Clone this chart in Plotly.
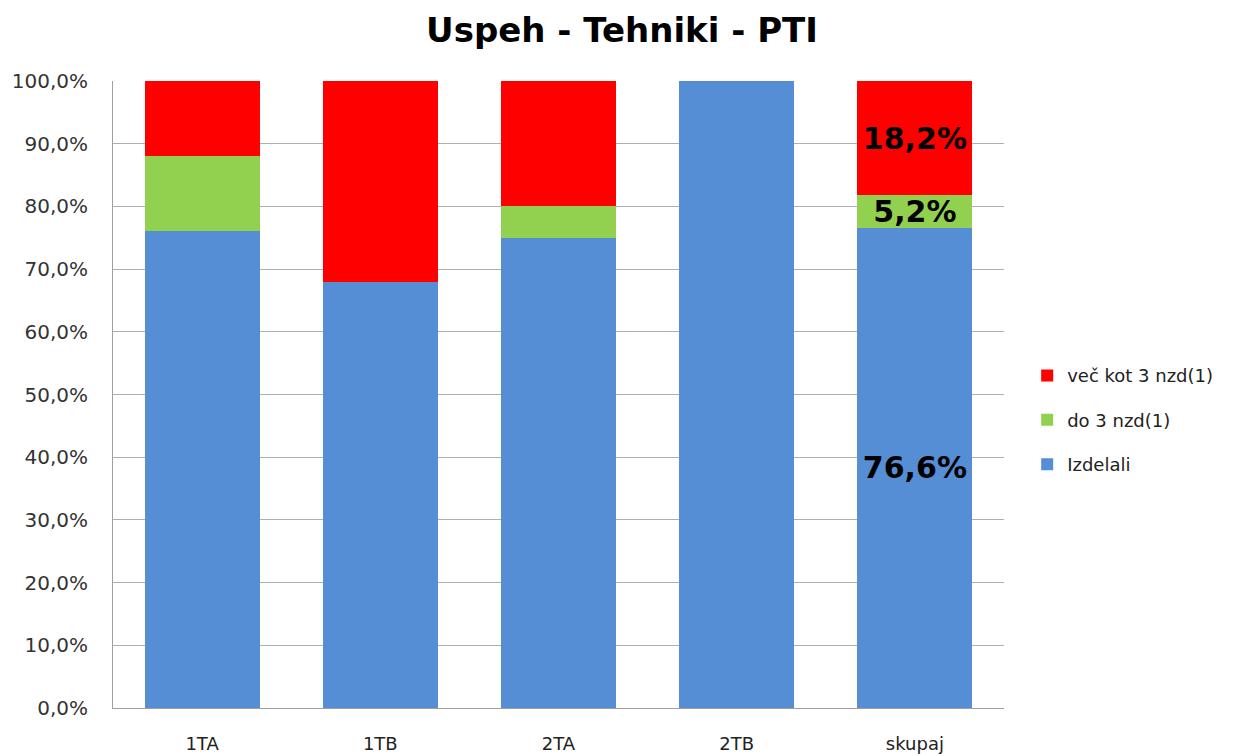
import plotly.graph_objects as go

categories = ["1TA", "1TB", "2TA", "2TB", "skupaj"]
izdelali = [76.0, 68.0, 75.0, 100.0, 76.6]
do3 = [12.0, 0.0, 5.0, 0.0, 5.2]
vec3 = [12.0, 32.0, 20.0, 0.0, 18.2]
labeled = [False, False, False, False, True]
y_ticks = [0, 10, 20, 30, 40, 50, 60, 70, 80, 90, 100]

def fmt(v):
    return ("%.1f%%" % v).replace(".", ",")

def labels(vals):
    return [fmt(v) if show else "" for v, show in zip(vals, labeled)]

series = [
    ("Izdelali", izdelali, "#558ED5", 3),
    ("do 3 nzd(1)", do3, "#92D050", 2),
    ("več kot 3 nzd(1)", vec3, "#FF0000", 1),
]

fig = go.Figure()
for name, vals, col, rank in series:
    fig.add_trace(go.Bar(
        x=categories, y=vals, name=name, legendgroup=name, legendrank=rank,
        marker=dict(color=col, line=dict(width=0)),
        text=labels(vals), textposition="inside", insidetextanchor="middle",
        constraintext="none",
        textfont=dict(family="DejaVu Sans", size=30, color="black", weight="bold"),
        hoverinfo="skip",
    ))

fig.update_layout(
    barmode="stack", bargap=0.355,
    width=1228, height=748,
    margin=dict(l=105, r=232, t=73, b=48),
    paper_bgcolor="white", plot_bgcolor="white",
    title=dict(text="<b>Uspeh - Tehniki - PTI</b>", x=0.5, xanchor="center",
               y=0.97, yref="container", yanchor="middle",
               font=dict(family="DejaVu Sans", size=34, color="black")),
    legend=dict(traceorder="grouped", x=1.026, xanchor="left", y=0.459, yanchor="middle",
                font=dict(family="DejaVu Sans", size=18, color="#222"),
                itemwidth=30, tracegroupgap=18),
    font=dict(family="DejaVu Sans"),
)
fig.update_yaxes(range=[0, 100], tickvals=y_ticks, ticktext=[fmt(v) for v in y_ticks],
                 showgrid=True, gridcolor="#AFAFAF", gridwidth=1,
                 showline=True, linecolor="#A0A0A0", linewidth=1,
                 zeroline=False, automargin=False,
                 tickfont=dict(family="DejaVu Sans", size=20, color="#333"),
                 ticks="", ticklabelstandoff=20)
fig.update_xaxes(showline=True, linecolor="#A0A0A0", linewidth=1, ticks="",
                 automargin=False,
                 tickfont=dict(family="DejaVu Sans", size=18, color="#222"),
                 ticklabelstandoff=19)

fig.write_html("out.html")
